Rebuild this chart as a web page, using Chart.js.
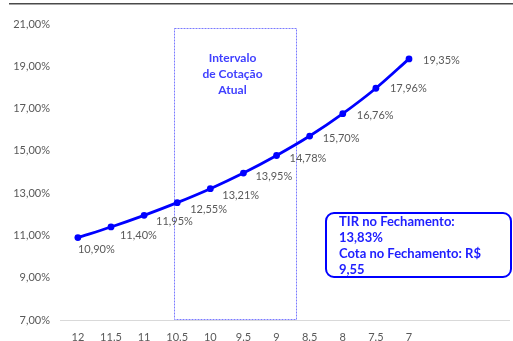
<!DOCTYPE html>
<html>
<head>
<meta charset="utf-8">
<script src="https://cdn.jsdelivr.net/npm/chart.js@4/dist/chart.umd.min.js"></script>
<style>
    html, body { margin: 0; padding: 0; background: #fff; }
    #wrap { width: 513px; height: 341px; position: relative; }
</style>
</head>
<body>
<div id="wrap"><canvas id="tirChart"></canvas></div>
<script>
// === TIR x Cota chart ===

// --- Data ---
const cotas = [12, 11.5, 11, 10.5, 10, 9.5, 9, 8.5, 8, 7.5, 7];
const tirValues = [10.90, 11.40, 11.95, 12.55, 13.21, 13.95, 14.78, 15.70, 16.76, 17.96, 19.35];
const yTicks = [7, 9, 11, 13, 15, 17, 19, 21];

// current price range (in cota units) and closing figures
const intervaloCotacao = [10.55, 8.70];
const intervaloLabel = ['Intervalo', 'de Cotação', 'Atual'];
const fechamentoLines = ['TIR no Fechamento:', '13,83%', 'Cota no Fechamento: R$', '9,55'];

// label nudges (dx, dy) for each point label
const labelNudge = [[0, 12], [9, 8], [12, 6], [13, 7], [12, 7], [12, 3], [13, 3], [13, 2], [14, 2], [14, 0], [14, 2]];

const FONT = 'Lato, "Open Sans", sans-serif';
const GRAY = '#595959';
const BLUE = '#0000ff';

const fmtPct = (v) => v.toFixed(2).replace('.', ',') + '%';

// --- Plugins ---
const intervalBox = {
    id: 'intervalBox',
    beforeDatasetsDraw(chart) {
        const { ctx, scales: { x, y } } = chart;
        const x1 = Math.round(x.getPixelForValue(intervaloCotacao[0])) + 0.5;
        const x2 = Math.round(x.getPixelForValue(intervaloCotacao[1])) + 0.5;
        const y1 = Math.round(y.getPixelForValue(20.8)) + 0.5;
        const y2 = Math.round(y.getPixelForValue(7)) - 0.5;
        ctx.save();
        ctx.strokeStyle = '#7a7aff';
        ctx.lineWidth = 1;
        ctx.setLineDash([2, 1]);
        ctx.strokeRect(x1, y1, x2 - x1, y2 - y1);
        ctx.setLineDash([]);
        ctx.fillStyle = '#4040ff';
        ctx.font = 'bold 12px ' + FONT;
        ctx.textAlign = 'center';
        ctx.textBaseline = 'middle';
        const cx = (x1 + x2) / 2 - 3;
        intervaloLabel.forEach((t, i) => ctx.fillText(t, cx, 58 + i * 16));
        ctx.restore();
    }
};

const pointLabels = {
    id: 'pointLabels',
    afterDatasetsDraw(chart) {
        const { ctx } = chart;
        const meta = chart.getDatasetMeta(0);
        ctx.save();
        ctx.fillStyle = GRAY;
        ctx.font = '11px ' + FONT;
        ctx.textAlign = 'left';
        ctx.textBaseline = 'middle';
        meta.data.forEach((pt, i) => {
            const [dx, dy] = labelNudge[i];
            ctx.fillText(fmtPct(tirValues[i]), pt.x + dx, pt.y + dy);
        });
        ctx.restore();
    }
};

const decorations = {
    id: 'decorations',
    afterDraw(chart) {
        const { ctx } = chart;
        ctx.save();
        // rule under the (cropped) header
        ctx.fillStyle = '#4a4a4a';
        ctx.fillRect(9, 3, 504, 1.5);

        // closing info box
        const bx = 326, by = 213, bw = 185, bh = 64, r = 8;
        ctx.strokeStyle = BLUE;
        ctx.lineWidth = 2;
        ctx.beginPath();
        ctx.roundRect(bx, by, bw, bh, r);
        ctx.stroke();
        ctx.fillStyle = '#2020ff';
        ctx.font = 'bold 13px ' + FONT;
        ctx.textAlign = 'left';
        ctx.textBaseline = 'middle';
        fechamentoLines.forEach((t, i) => ctx.fillText(t, 339, 222 + i * 16));
        ctx.restore();
    }
};

// --- Chart ---
const ctx = document.getElementById('tirChart').getContext('2d');
new Chart(ctx, {
    type: 'line',
    data: {
        datasets: [{
            data: cotas.map((c, i) => ({ x: c, y: tirValues[i] })),
            borderColor: BLUE,
            backgroundColor: BLUE,
            borderWidth: 2.8,
            pointRadius: 3.4,
            pointBackgroundColor: BLUE,
            pointBorderWidth: 0,
            cubicInterpolationMode: 'monotone',
            fill: false
        }]
    },
    options: {
        responsive: true,
        maintainAspectRatio: false,
        animation: false,
        events: [],
        layout: { padding: { top: 24, right: 0, left: 0, bottom: 0 } },
        plugins: { legend: { display: false }, tooltip: { enabled: false } },
        scales: {
            x: {
                type: 'linear',
                reverse: true,
                min: 5.49,
                max: 12.27,
                afterBuildTicks: (scale) => { scale.ticks = cotas.map(v => ({ value: v })); },
                afterFit: (scale) => { scale.height = 21; },
                grid: { display: false, drawTicks: false },
                border: { display: true, color: '#d9d9d9', width: 1 },
                ticks: {
                    padding: 11,
                    autoSkip: false,
                    maxRotation: 0,
                    color: GRAY,
                    font: { family: FONT, size: 11 },
                    callback: (v) => String(v)
                }
            },
            y: {
                min: 7,
                max: 21,
                afterBuildTicks: (scale) => { scale.ticks = yTicks.map(v => ({ value: v })); },
                afterFit: (scale) => { scale.width = 60; },
                grid: { display: false, drawTicks: false },
                border: { display: false },
                ticks: {
                    padding: 10,
                    color: GRAY,
                    font: { family: FONT, size: 11 },
                    callback: (v) => fmtPct(v)
                }
            }
        }
    },
    plugins: [intervalBox, pointLabels, decorations]
});
</script>
</body>
</html>
